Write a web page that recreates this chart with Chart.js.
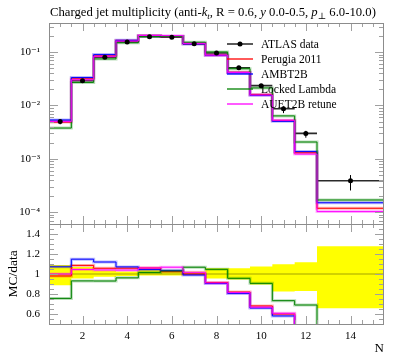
<!DOCTYPE html>
<html>
<head>
<meta charset="utf-8">
<script src="https://cdn.jsdelivr.net/npm/chart.js@4.4.0/dist/chart.umd.min.js"></script>
<style>
html, body { margin: 0; padding: 0; background: #fff; }
#wrap { position: relative; width: 397px; height: 358px; }
#wrap canvas { position: absolute; left: 0; top: 0; }
</style>
</head>
<body>
<div id="wrap">
  <canvas id="mainChart" width="397" height="358"></canvas>
  <canvas id="ratioChart" width="397" height="358"></canvas>
</div>
<script>
// Histogram binning (last bin is wide)
const binEdges = [0.5, 1.5, 2.5, 3.5, 4.5, 5.5, 6.5, 7.5, 8.5, 9.5, 10.5, 11.5, 12.5, 15.5];
const binCentres = [1, 2, 3, 4, 5, 6, 7, 8, 9, 10, 11, 12, 14];

// ATLAS data and its uncertainty band (relative to data)
const atlasData = [0.0050, 0.029, 0.080, 0.155, 0.193, 0.190, 0.143, 0.096, 0.051, 0.0235, 0.0087, 0.0030, 0.00039];
const atlasRelUp = [1.09, 1.07, 1.035, 1.025, 1.042, 1.034, 1.024, 1.058, 1.058, 1.074, 1.098, 1.117, 1.277];
const atlasRelDown = [0.888, 0.955, 0.973, 0.98, 0.985, 0.985, 0.99, 0.956, 0.945, 0.895, 0.826, 0.83, 0.657];

// MC generator tunes
const perugia2011 = [0.0049, 0.0315, 0.0846, 0.164, 0.2046, 0.1946, 0.143, 0.0878, 0.0418, 0.0160, 0.00522, 0.0013, 0.000119];
const ambt2b = [0.00536, 0.0333, 0.0896, 0.166, 0.2015, 0.1965, 0.1416, 0.0869, 0.0411, 0.0155, 0.00505, 0.00137, 0.000151];
const lockedLambda = [0.00378, 0.0270, 0.0744, 0.149, 0.196, 0.1957, 0.1527, 0.1005, 0.0488, 0.0213, 0.00638, 0.00207, 0.00017];
const auet2bRetune = [0.0050, 0.0303, 0.0832, 0.161, 0.2046, 0.2029, 0.1454, 0.0874, 0.0415, 0.0157, 0.00528, 0.00123, 0.000103];

// Ticks and labels
const xTickValues = [2, 4, 6, 8, 10, 12, 14];
const xTickLabels = ['2', '4', '6', '8', '10', '12', '14'];
const logTickValues = [1e-4, 1e-3, 1e-2, 1e-1];
const logTickLabels = ['10\u207B\u2074', '10\u207B\u00B3', '10\u207B\u00B2', '10\u207B\u00B9'];
const ratioTickValues = [0.6, 0.8, 1.0, 1.2, 1.4];
const ratioTickLabels = ['0.6', '0.8', '1', '1.2', '1.4'];

// later entries are drawn on top
const mcSeries = [
    { label: 'Perugia 2011', values: perugia2011, color: [255, 0, 0] },
    { label: 'AMBT2B', values: ambt2b, color: [0, 0, 255] },
    { label: 'Locked Lambda', values: lockedLambda, color: [0, 128, 0] },
    { label: 'AUET2B retune', values: auet2bRetune, color: [255, 0, 255] }
];

const SERIF = "'Liberation Serif', 'DejaVu Serif', serif";
Chart.defaults.font.family = SERIF;
Chart.defaults.color = '#000';

const rgba = (c, a) => `rgba(${c[0]},${c[1]},${c[2]},${a})`;

// histogram points for a stepped line
function stepPoints(values) {
    const pts = values.map((v, i) => ({ x: binEdges[i], y: v }));
    pts.push({ x: binEdges[binEdges.length - 1], y: values[values.length - 1] });
    return pts;
}

function stepLine(data, color, width, order) {
    return {
        data: data, stepped: true, borderColor: color, borderWidth: width,
        pointRadius: 0, fill: false, order: order, tension: 0
    };
}

// inward ticks on all four sides plus frame
function drawFrame(chart, yMajor, yMinor) {
    const { ctx, chartArea: a, scales } = chart;
    const xs = scales.x, ys = scales.y;
    ctx.save();
    ctx.strokeStyle = '#a0a0a0';
    ctx.lineWidth = 1;
    ctx.beginPath();
    for (let v = 1; v < 15.5; v += 0.5) {
        const px = Math.round(xs.getPixelForValue(v)) + 0.5;
        const len = xTickValues.includes(v) ? 8 : 4;
        ctx.moveTo(px, a.top); ctx.lineTo(px, a.top + len);
        ctx.moveTo(px, a.bottom); ctx.lineTo(px, a.bottom - len);
    }
    const yTick = (v, len) => {
        const py = Math.round(ys.getPixelForValue(v)) + 0.5;
        ctx.moveTo(a.left, py); ctx.lineTo(a.left + len, py);
        ctx.moveTo(a.right, py); ctx.lineTo(a.right - len, py);
    };
    yMajor.forEach(v => yTick(v, 9));
    yMinor.forEach(v => yTick(v, 5));
    ctx.stroke();
    ctx.strokeStyle = '#8c8c8c';
    ctx.strokeRect(Math.round(a.left) + 0.5, Math.round(a.top) + 0.5,
        Math.round(a.right - a.left) - 1, Math.round(a.bottom - a.top));
    ctx.restore();
}

// ---------- main panel ----------
const xBarPts = [], yBarPts = [];
atlasData.forEach((v, i) => {
    xBarPts.push({ x: binEdges[i], y: v }, { x: binEdges[i + 1], y: v }, { x: binEdges[i + 1], y: null });
    yBarPts.push({ x: binCentres[i], y: v * atlasRelDown[i] }, { x: binCentres[i], y: v * atlasRelUp[i] }, { x: binCentres[i], y: null });
});

const mainDatasets = [
    { data: xBarPts, borderColor: '#2a2a2a', borderWidth: 1.6, pointRadius: 0, order: 20, spanGaps: false },
];
mcSeries.forEach((s, k) => {
    mainDatasets.push(stepLine(stepPoints(s.values), rgba(s.color, 0.28), 3, 19 - k));
    mainDatasets.push(stepLine(stepPoints(s.values), rgba(s.color, 1), 1, 10 - k));
});
mainDatasets.push({ data: yBarPts, borderColor: '#000', borderWidth: 1, pointRadius: 0, order: 1, spanGaps: false });
mainDatasets.push({
    data: atlasData.map((v, i) => ({ x: binCentres[i], y: v })), showLine: false,
    pointRadius: 2.5, pointBackgroundColor: '#000', pointBorderWidth: 0, order: 0
});

const logMinor = [];
[1e-5, 1e-4, 1e-3, 1e-2, 1e-1].forEach(d => {
    for (let k = 2; k <= 9; k++) {
        const v = k * d;
        if (v > 6.04e-5 && v < 0.35) logMinor.push(v);
    }
});

const titleParts = [
    ['Charged jet multiplicity (anti-', 'n'], ['k', 'i'], ['t', 'isub'], [', R = 0.6, ', 'n'],
    ['y', 'i'], [' 0.0-0.5, ', 'n'], ['p', 'i'], ['\u22A5', 'sub'], [' 6.0-10.0)', 'n']
];
const legendRows = [['ATLAS data', [0, 0, 0]]].concat(mcSeries.map(s => [s.label, s.color]));

const mainDecor = {
    id: 'mainDecor',
    afterDraw(chart) {
        drawFrame(chart, logTickValues, logMinor);
        const ctx = chart.ctx;
        ctx.save();
        // title
        let x = 50;
        titleParts.forEach(([t, st]) => {
            const sub = st.indexOf('sub') >= 0;
            const it = st[0] === 'i';
            ctx.font = (it ? 'italic ' : '') + (sub ? '9px ' : '12.7px ') + SERIF;
            ctx.fillStyle = '#000';
            ctx.textBaseline = 'alphabetic';
            ctx.fillText(t, x, sub ? 18.5 : 16);
            x += ctx.measureText(t).width;
        });
        // legend
        ctx.font = '11.5px ' + SERIF;
        legendRows.forEach(([label, c], i) => {
            const y = 44 + i * 15;
            ctx.strokeStyle = rgba(c, 1);
            ctx.lineWidth = 1.3;
            ctx.beginPath();
            ctx.moveTo(227, y); ctx.lineTo(253, y);
            ctx.stroke();
            if (i === 0) {
                ctx.fillStyle = '#000';
                ctx.beginPath(); ctx.arc(240, y, 2.5, 0, Math.PI * 2); ctx.fill();
            }
            ctx.fillStyle = '#000';
            ctx.fillText(label, 261, y + 4);
        });
        ctx.restore();
    }
};

new Chart(document.getElementById('mainChart'), {
    type: 'line',
    data: { datasets: mainDatasets },
    options: {
        responsive: false, animation: false, events: [],
        layout: { padding: { left: 0, right: 13, top: 23, bottom: 134 } },
        plugins: { legend: { display: false }, tooltip: { enabled: false } },
        scales: {
            x: { type: 'linear', min: 0.5, max: 15.5, display: false },
            y: {
                type: 'logarithmic', min: 6.04e-5, max: 0.35,
                afterFit: s => { s.width = 49; },
                afterBuildTicks: s => { s.ticks = logTickValues.map(v => ({ value: v })); },
                grid: { display: false, drawTicks: false }, border: { display: false },
                ticks: { padding: 9, autoSkip: false, font: { size: 11 }, callback: (v, i) => logTickLabels[i] }
            }
        }
    },
    plugins: [mainDecor]
});

// ---------- ratio panel ----------
const ratioDatasets = [
    Object.assign(stepLine(stepPoints(atlasRelUp), 'rgba(0,0,0,0)', 0, 30), { fill: '+1', backgroundColor: '#ffff00' }),
    stepLine(stepPoints(atlasRelDown), 'rgba(0,0,0,0)', 0, 30),
    stepLine([{ x: 0.5, y: 1 }, { x: 15.5, y: 1 }], 'rgba(90,90,0,0.55)', 1, 25)
];
mcSeries.forEach((s, k) => {
    const r = s.values.map((v, i) => v / atlasData[i]);
    ratioDatasets.push(stepLine(stepPoints(r), rgba(s.color, 0.28), 3, 19 - k));
    ratioDatasets.push(stepLine(stepPoints(r), rgba(s.color, 1), 1, 10 - k));
});

const ratioMinor = [];
for (let v = 0.55; v < 1.5; v += 0.05) {
    if (!ratioTickValues.some(t => Math.abs(t - v) < 1e-6)) ratioMinor.push(v);
}

new Chart(document.getElementById('ratioChart'), {
    type: 'line',
    data: { datasets: ratioDatasets },
    options: {
        responsive: false, animation: false, events: [],
        layout: { padding: { left: 0, right: 13, top: 224, bottom: 0 } },
        plugins: { legend: { display: false }, tooltip: { enabled: false } },
        scales: {
            x: {
                type: 'linear', min: 0.5, max: 15.5,
                afterFit: s => { s.height = 34; },
                afterBuildTicks: s => { s.ticks = xTickValues.map(v => ({ value: v })); },
                grid: { display: false, drawTicks: false }, border: { display: false },
                ticks: { padding: 6, autoSkip: false, maxRotation: 0, font: { size: 11 }, callback: (v, i) => xTickLabels[i] },
                title: { display: true, text: 'N', align: 'end', font: { size: 13 }, padding: { top: 0, bottom: 2 } }
            },
            y: {
                type: 'linear', min: 0.5, max: 1.5,
                afterFit: s => { s.width = 49; },
                afterBuildTicks: s => { s.ticks = ratioTickValues.map(v => ({ value: v })); },
                grid: { display: false, drawTicks: false }, border: { display: false },
                ticks: { padding: 9, autoSkip: false, font: { size: 11 }, callback: (v, i) => ratioTickLabels[i] },
                title: { display: true, text: 'MC/data', font: { size: 13.5 }, padding: { top: 5, bottom: 0 } }
            }
        }
    },
    plugins: [{ id: 'ratioDecor', afterDraw(chart) { drawFrame(chart, ratioTickValues, ratioMinor); } }]
});
</script>
</body>
</html>
